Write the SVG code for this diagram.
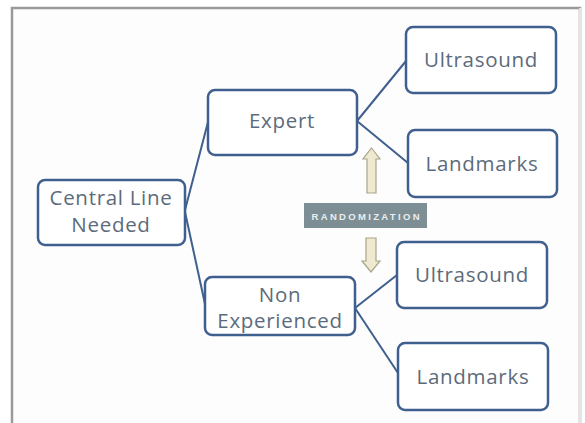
<svg xmlns="http://www.w3.org/2000/svg" width="585" height="423" viewBox="0 0 585 423">
<style>
.box{fill:#ffffff;stroke:#3f5f8f;stroke-width:2.5}
.lbl{font-family:"Open Sans","Liberation Sans",sans-serif;font-size:20.5px;letter-spacing:0.7px;fill:#5c6b7c;text-anchor:middle}
.con{stroke:#3f5f8f;stroke-width:2;fill:none}
.arr{fill:#efe9cf;stroke:#a9a58a;stroke-width:1.2}
</style>
<rect x="0" y="0" width="585" height="423" fill="#ffffff"/>
<rect x="12" y="8" width="568" height="420" fill="#fdfdfd" stroke="#9a9a9a" stroke-width="2.5"/>
<line x1="580" y1="8" x2="580" y2="423" stroke="#e4e4e4" stroke-width="2"/>
<g id="connectors">
<path class="con" d="M185 210 L208 122"/>
<path class="con" d="M185 212 L205 304"/>
<path class="con" d="M357 121 L406 61"/>
<path class="con" d="M357 121 L408 163"/>
<path class="con" d="M355 308 L397 275"/>
<path class="con" d="M355 308 L398 373"/>
</g>
<g id="central">
<rect class="box" x="38" y="180" width="147" height="65" rx="7"/>
<text class="lbl" x="111" y="205">Central Line</text>
<text class="lbl" x="111" y="232">Needed</text>
</g>
<g id="expert">
<rect class="box" x="208" y="90" width="149" height="65" rx="7"/>
<text class="lbl" x="282" y="128">Expert</text>
</g>
<g id="nonexp">
<rect class="box" x="205" y="277" width="150" height="58" rx="7"/>
<text class="lbl" x="280" y="302">Non</text>
<text class="lbl" x="280" y="328">Experienced</text>
</g>
<g id="us1">
<rect class="box" x="406" y="27" width="150" height="66" rx="7"/>
<text class="lbl" x="481" y="67">Ultrasound</text>
</g>
<g id="lm1">
<rect class="box" x="408" y="130" width="149" height="67" rx="7"/>
<text class="lbl" x="482" y="171">Landmarks</text>
</g>
<g id="us2">
<rect class="box" x="397" y="242" width="150" height="66" rx="7"/>
<text class="lbl" x="472" y="282">Ultrasound</text>
</g>
<g id="lm2">
<rect class="box" x="398" y="343" width="150" height="67" rx="7"/>
<text class="lbl" x="473" y="384">Landmarks</text>
</g>
<g id="randomization">
<rect x="304" y="203" width="123" height="25" fill="#7d8e95"/>
<text x="365.5" y="219.5" font-family="Liberation Sans, sans-serif" font-size="9.5" font-weight="bold" fill="#e8eef0" text-anchor="middle" textLength="108" lengthAdjust="spacing">RANDOMIZATION</text>
</g>
<g id="arrow-up">
<path class="arr" d="M371.5 148 L380 159 L376 159 L376 193 L367 193 L367 159 L363 159 Z"/>
</g>
<g id="arrow-down">
<path class="arr" d="M366 238 L376 238 L376 261 L380 261 L371 272 L362 261 L366 261 Z"/>
</g>
</svg>
